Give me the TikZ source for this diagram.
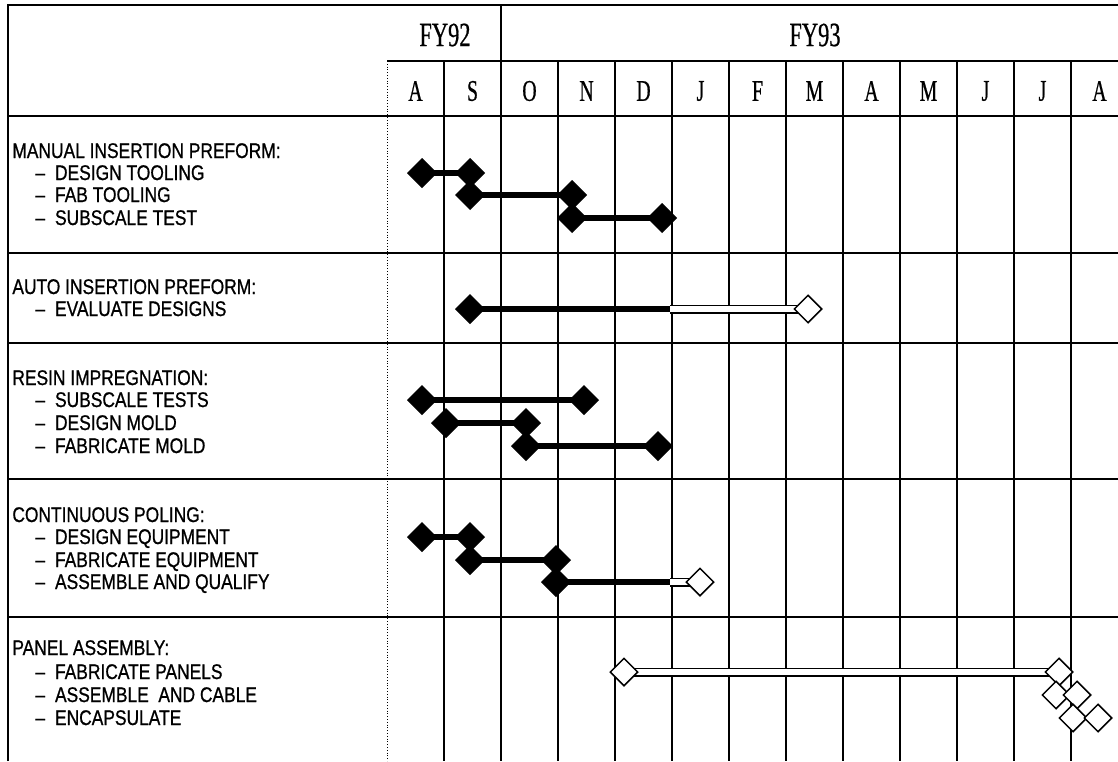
\documentclass[tikz,border=0pt]{standalone}
\usepackage{fontspec}
\usetikzlibrary{shapes.geometric}
\newfontfamily\hdrfont[FakeStretch=0.66,FakeBold=0.6]{Liberation Serif}
\newfontfamily\lblfont[FakeStretch=0.82,FakeBold=0.8]{Liberation Sans}
\newcommand{\tasktxt}[1]{\textendash\hspace{5pt}#1}
\pgfdeclarelayer{grid}
\pgfdeclarelayer{bars}
\pgfsetlayers{grid,bars,main}
\tikzset{
	done/.style={diamond,draw,fill=black,inner sep=0pt,minimum size=14.5pt,line width=0.5pt},
	todo/.style={diamond,draw,fill=white,inner sep=0pt,minimum size=14pt,line width=0.75pt},
	donebar/.style={line width=3.3pt},
	todobar/.style={double=white,double distance=3.2pt,line width=0.65pt},
	head/.style={anchor=base west,inner sep=0pt,font=\lblfont\fontsize{10.6}{11}\selectfont},
	year/.style={inner sep=0pt,font=\hdrfont\fontsize{17}{17}\selectfont},
	month/.style={inner sep=0pt,font=\hdrfont\fontsize{15}{15}\selectfont}
}
\begin{document}
\begin{tikzpicture}[x=0.5pt,y=-0.5pt]
	\useasboundingbox(0,0)rectangle(1118,761);
	\begin{pgfonlayer}{grid}
		\fill[white](0,0)rectangle(1118,761);
		\draw[line width=1.1pt](8,761)--(8,5)--(1118,5);
		\draw[line width=0.85pt](387,61)--(1118,61);
		\draw[line width=0.85pt](501,5)--(501,61);
		\foreach \y in {116,253,343,479,617}\draw[line width=0.85pt](8,\y)--(1118,\y);
		\foreach \x in {444,501,...,1071}\draw[line width=0.75pt](\x,61)--(\x,761);
		\draw[densely dotted,line width=0.4pt](387,61)--(387,761);
	\end{pgfonlayer}
	\node[year](fy92)at(445,35){FY92};
	\node[year](fy93)at(815,35){FY93};
	\foreach \m[count=\i] in {A,S,O,N,D,J,F,M,A,M,J,J,A}\node[month](mon\i)at(358.5+57*\i,91){\m};
	\node[head](mip)at(12,158){MANUAL INSERTION PREFORM:};
	\node[head](mip1)at(35,180){\tasktxt{DESIGN TOOLING}};
	\node[head](mip2)at(35,202){\tasktxt{FAB TOOLING}};
	\node[head](mip3)at(35,225){\tasktxt{SUBSCALE TEST}};
	\node[head](aip)at(12,294){AUTO INSERTION PREFORM:};
	\node[head](aip1)at(35,316){\tasktxt{EVALUATE DESIGNS}};
	\node[head](rim)at(12,385){RESIN IMPREGNATION:};
	\node[head](rim1)at(35,407){\tasktxt{SUBSCALE TESTS}};
	\node[head](rim2)at(35,430){\tasktxt{DESIGN MOLD}};
	\node[head](rim3)at(35,453){\tasktxt{FABRICATE MOLD}};
	\node[head](cpo)at(12,522){CONTINUOUS POLING:};
	\node[head](cpo1)at(35,544){\tasktxt{DESIGN EQUIPMENT}};
	\node[head](cpo2)at(35,567){\tasktxt{FABRICATE EQUIPMENT}};
	\node[head](cpo3)at(35,589){\tasktxt{ASSEMBLE AND QUALIFY}};
	\node[head](pas)at(12,655){PANEL ASSEMBLY:};
	\node[head](pas1)at(35,679){\tasktxt{FABRICATE PANELS}};
	\node[head](pas2)at(35,702){\tasktxt{ASSEMBLE\ \ AND CABLE}};
	\node[head](pas3)at(35,725){\tasktxt{ENCAPSULATE}};
	\node[done](mi1s)at(422,173){};
	\node[done](mi1e)at(470,173){};
	\node[done](mi2s)at(470,195){};
	\node[done](mi2e)at(572,195){};
	\node[done](mi3s)at(572,218){};
	\node[done](mi3e)at(662,218){};
	\node[done](ai1s)at(470,309){};
	\coordinate(ai1p)at(670,309);
	\node[todo](ai1e)at(808,309){};
	\node[done](ri1s)at(422,400){};
	\node[done](ri1e)at(584,400){};
	\node[done](ri2s)at(446,423){};
	\node[done](ri2e)at(526,423){};
	\node[done](ri3s)at(526,446){};
	\node[done](ri3e)at(658,446){};
	\node[done](cp1s)at(422,537){};
	\node[done](cp1e)at(470,537){};
	\node[done](cp2s)at(470,560){};
	\node[done](cp2e)at(556,560){};
	\node[done](cp3s)at(556,582){};
	\coordinate(cp3p)at(670,582);
	\node[todo](cp3e)at(700,582){};
	\node[todo](pa1s)at(624,672){};
	\node[todo](pa1e)at(1059,672){};
	\node[todo](pa2s)at(1056,695){};
	\node[todo](pa2e)at(1077,695){};
	\node[todo](pa3s)at(1073,718){};
	\node[todo](pa3e)at(1098,718){};
	\begin{pgfonlayer}{bars}
		\draw[donebar](mi1s.center)--(mi1e.center);
		\draw[donebar](mi2s.center)--(mi2e.center);
		\draw[donebar](mi3s.center)--(mi3e.center);
		\draw[donebar](ai1s.center)--(ai1p);
		\draw[todobar](ai1p)--(ai1e.center);
		\draw[donebar](ri1s.center)--(ri1e.center);
		\draw[donebar](ri2s.center)--(ri2e.center);
		\draw[donebar](ri3s.center)--(ri3e.center);
		\draw[donebar](cp1s.center)--(cp1e.center);
		\draw[donebar](cp2s.center)--(cp2e.center);
		\draw[donebar](cp3s.center)--(cp3p);
		\draw[todobar](cp3p)--(cp3e.center);
		\draw[todobar](pa1s.center)--(pa1e.center);
	\end{pgfonlayer}
\end{tikzpicture}
\end{document}
